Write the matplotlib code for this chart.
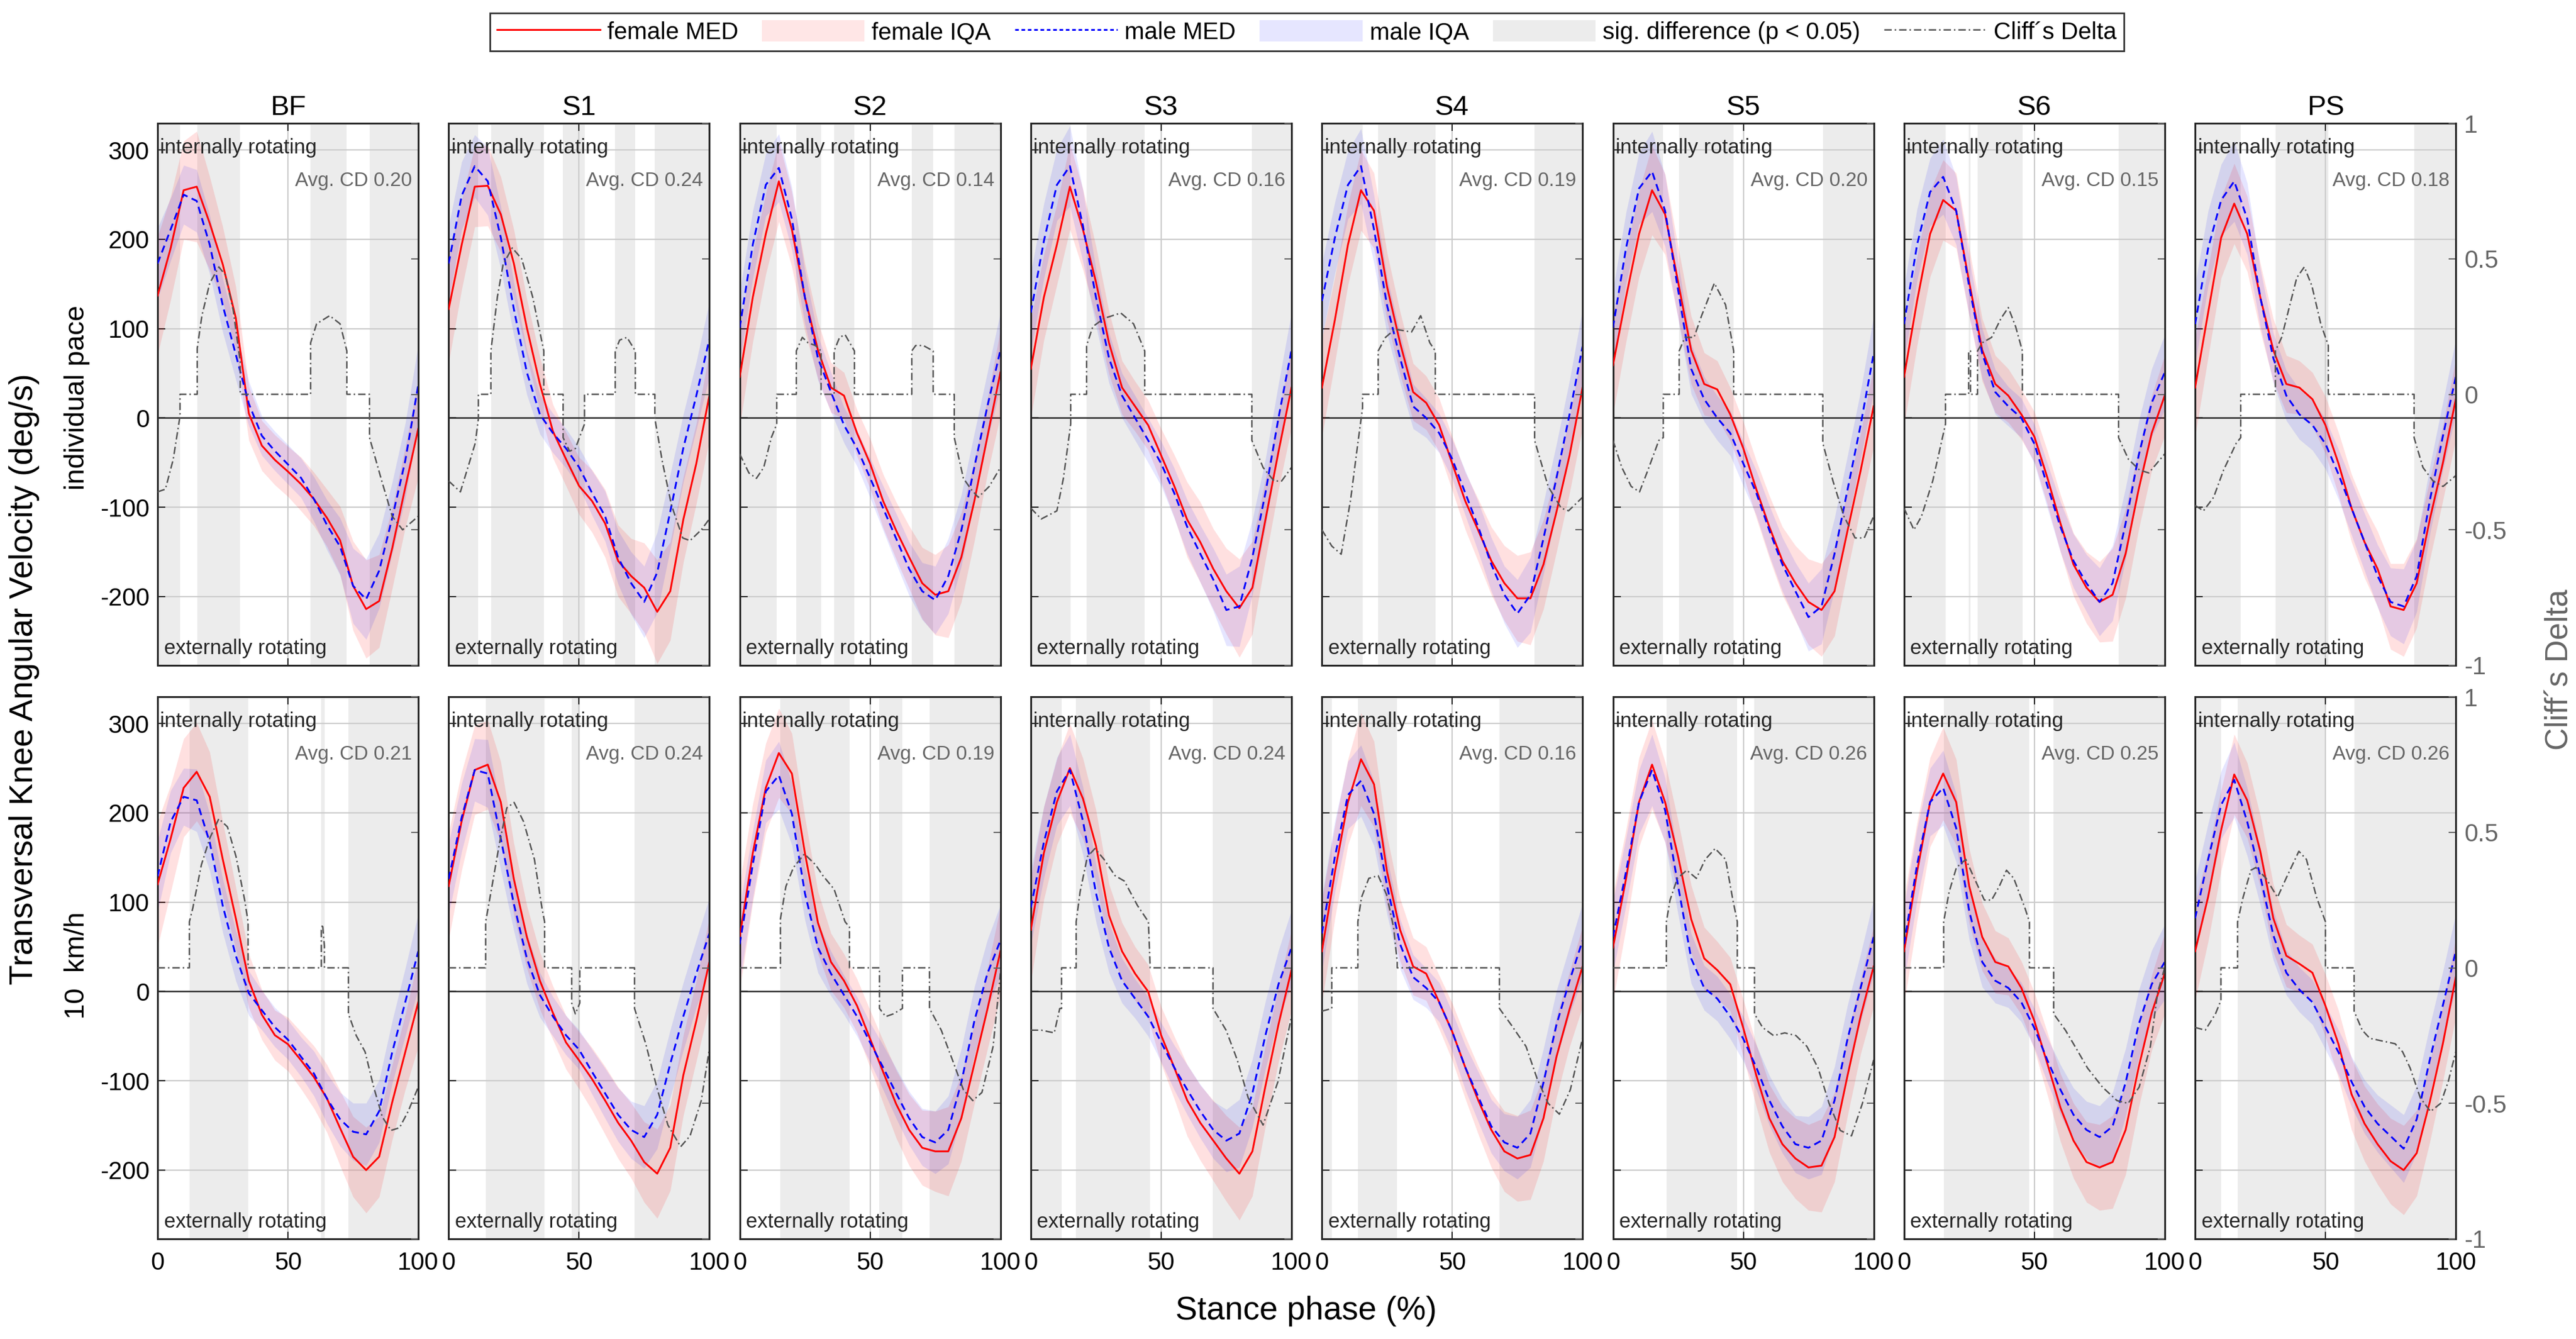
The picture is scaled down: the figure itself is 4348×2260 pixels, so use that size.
import numpy as np
import matplotlib
matplotlib.use('Agg')
import matplotlib.pyplot as plt
from matplotlib.lines import Line2D
from matplotlib.patches import Patch
from matplotlib.ticker import FuncFormatter

plt.rcParams['font.family'] = ['Liberation Sans', 'DejaVu Sans']
plt.rcParams['axes.unicode_minus'] = False

# stance phase (%) at which the medians / IQR were read
phase = np.arange(0, 101, 5)

shoes = ['BF', 'S1', 'S2', 'S3', 'S4', 'S5', 'S6', 'PS']
speeds = ['individual pace', '10  km/h']

# ---- individual pace ----
fem_med_ind = [
    [137, 190, 255, 259, 218, 172, 112, 5, -31, -47, -60, -74, -91, -112, -137, -188, -214, -205, -146, -78, -12],
    [122, 194, 259, 260, 228, 173, 101, 38, -15, -46, -76, -93, -118, -160, -177, -190, -217, -194, -114, -51, 25],
    [46, 135, 206, 265, 211, 135, 76, 34, 25, -17, -51, -93, -126, -156, -185, -198, -194, -156, -93, -21, 51],
    [55, 135, 194, 259, 211, 152, 84, 34, 13, -8, -42, -76, -114, -139, -169, -194, -213, -190, -114, -38, 34],
    [34, 110, 194, 255, 232, 147, 84, 29, 17, -8, -51, -93, -126, -160, -185, -202, -202, -164, -105, -42, 34],
    [59, 135, 206, 255, 228, 152, 76, 38, 32, 4, -34, -80, -122, -160, -185, -206, -215, -194, -126, -59, 13],
    [46, 131, 206, 244, 232, 152, 76, 38, 25, 4, -21, -67, -118, -164, -190, -206, -198, -152, -80, -17, 25],
    [34, 118, 202, 240, 206, 135, 76, 38, 34, 21, -8, -51, -101, -139, -169, -211, -215, -185, -114, -51, 21],
]
mal_med_ind = [
    [173, 211, 250, 243, 194, 126, 71, 16, -20, -37, -52, -67, -91, -120, -144, -188, -203, -171, -112, -48, 37],
    [173, 249, 282, 265, 202, 122, 51, 4, -17, -34, -55, -84, -110, -156, -185, -206, -173, -105, -34, 25, 88],
    [101, 194, 261, 280, 223, 135, 67, 29, -8, -34, -67, -101, -135, -169, -194, -204, -177, -126, -55, 13, 76],
    [118, 198, 261, 282, 215, 135, 67, 25, 0, -25, -51, -84, -122, -152, -181, -215, -211, -156, -84, 0, 76],
    [131, 202, 261, 282, 211, 126, 67, 13, 0, -17, -46, -84, -122, -164, -198, -219, -198, -135, -67, 4, 80],
    [101, 190, 257, 276, 232, 143, 55, 21, 0, -17, -51, -84, -126, -164, -194, -223, -211, -152, -80, -8, 72],
    [105, 194, 253, 270, 232, 147, 72, 29, 13, 0, -29, -76, -122, -160, -185, -206, -185, -118, -42, 17, 51],
    [105, 190, 244, 265, 223, 135, 67, 25, 4, -8, -29, -63, -101, -139, -177, -206, -211, -177, -93, -21, 46],
]
# half width of the inter quartile range
fem_iqr_ind = [
    [66, 58, 55, 62, 52, 42, 35, 30, 28, 28, 28, 30, 30, 32, 38, 50, 55, 52, 45, 45, 55],
    [60, 50, 45, 45, 42, 38, 32, 30, 30, 30, 32, 35, 38, 40, 42, 50, 58, 55, 48, 45, 50],
    [55, 50, 45, 45, 42, 38, 32, 28, 26, 26, 28, 30, 32, 35, 40, 45, 52, 50, 45, 42, 48],
    [55, 48, 45, 48, 45, 40, 35, 30, 28, 28, 30, 35, 42, 45, 45, 48, 55, 52, 45, 42, 45],
    [55, 48, 45, 45, 42, 38, 35, 32, 30, 30, 30, 32, 35, 38, 42, 48, 52, 50, 45, 42, 45],
    [55, 50, 48, 50, 45, 40, 38, 35, 32, 30, 30, 32, 35, 38, 42, 48, 52, 50, 45, 42, 45],
    [55, 50, 48, 45, 42, 38, 35, 32, 30, 28, 28, 30, 32, 35, 40, 45, 52, 50, 45, 42, 45],
    [55, 50, 45, 45, 42, 38, 35, 32, 30, 30, 32, 35, 38, 40, 42, 48, 52, 50, 45, 42, 45],
]
mal_iqr_ind = [
    [40, 35, 33, 35, 33, 30, 28, 25, 22, 22, 22, 22, 25, 28, 32, 42, 45, 42, 40, 42, 45],
    [42, 38, 35, 38, 35, 30, 25, 22, 22, 22, 22, 25, 28, 30, 35, 40, 45, 42, 38, 38, 42],
    [40, 38, 35, 38, 35, 30, 25, 22, 20, 20, 22, 25, 28, 30, 32, 38, 42, 40, 38, 38, 42],
    [45, 42, 40, 45, 40, 32, 28, 25, 25, 25, 25, 28, 30, 32, 35, 40, 45, 42, 38, 38, 42],
    [42, 40, 38, 42, 38, 32, 28, 25, 22, 22, 22, 25, 28, 30, 32, 38, 42, 40, 38, 38, 42],
    [42, 40, 40, 45, 40, 32, 28, 25, 25, 25, 25, 25, 28, 30, 32, 38, 42, 40, 38, 38, 42],
    [42, 40, 38, 42, 38, 32, 28, 25, 22, 22, 22, 25, 28, 30, 32, 38, 42, 40, 38, 38, 42],
    [45, 42, 40, 45, 40, 32, 28, 28, 28, 28, 28, 28, 30, 32, 35, 38, 42, 40, 38, 38, 42],
]
sig_ind = [
    [(0, 8.6), (15.2, 31.7), (58.7, 72.6), (81.3, 100)],
    [(0, 11.4), (16.2, 36.5), (43.9, 52.1), (63.9, 71.6), (79.1, 100)],
    [(0, 14.2), (21.7, 31.2), (36.2, 44), (66, 74.2), (82.3, 100)],
    [(0, 15.3), (21.4, 43.7), (84.8, 100)],
    [(0, 15.6), (21.6, 43.5), (81.6, 100)],
    [(0, 19.3), (25.4, 46.3), (80.5, 100)],
    [(0, 15.9), (24.8, 25.5), (28.2, 45.4), (82.3, 100)],
    [(0, 17.5), (30.8, 51.1), (84, 100)],
]
# Cliff's delta inside each significant region (phase %, delta)
cd_ind = [
    [[(0, -0.36), (3, -0.35), (6, -0.24), (8.6, -0.08)],
     [(15.2, 0.17), (17, 0.29), (20, 0.41), (23.5, 0.47), (26, 0.44), (29, 0.31), (31.7, 0.12)],
     [(58.7, 0.19), (61, 0.26), (66, 0.29), (70, 0.26), (72.6, 0.16)],
     [(81.3, -0.16), (86, -0.32), (90, -0.45), (94, -0.5), (100, -0.45)]],
    [[(0, -0.32), (4.5, -0.36), (8, -0.25), (10.2, -0.18), (11.4, -0.09)],
     [(16.2, 0.16), (18.7, 0.36), (20.9, 0.48), (24.4, 0.54), (28, 0.5), (32.2, 0.36), (36.5, 0.16)],
     [(43.9, -0.16), (46.4, -0.21), (48.6, -0.2), (52.1, -0.11)],
     [(63.9, 0.16), (65.6, 0.2), (68.4, 0.21), (71.6, 0.16)],
     [(79.1, -0.09), (82, -0.25), (85.5, -0.41), (89.8, -0.53), (92.6, -0.54), (96.9, -0.5), (100, -0.46)]],
    [[(0, -0.22), (3.5, -0.29), (6.4, -0.31), (9.2, -0.27), (12.1, -0.16), (14.2, -0.11)],
     [(21.7, 0.16), (24, 0.21), (26.2, 0.19), (29, 0.18), (31.2, 0.16)],
     [(36.2, 0.16), (38.3, 0.21), (40.4, 0.22), (44, 0.16)],
     [(66, 0.16), (67.5, 0.18), (70.4, 0.18), (74.2, 0.16)],
     [(82.3, -0.16), (85.8, -0.31), (88.7, -0.35), (91.5, -0.38), (95.7, -0.34), (100, -0.27)]],
    [[(0, -0.42), (4, -0.46), (10, -0.43), (12.5, -0.31), (15.3, -0.11)],
     [(21.4, 0.18), (23.8, 0.25), (28.1, 0.28), (34.5, 0.3), (39.4, 0.26), (43.7, 0.16)],
     [(84.8, -0.17), (89.1, -0.27), (93.3, -0.32), (96.2, -0.32), (100, -0.27)]],
    [[(0, -0.5), (3.8, -0.56), (7.4, -0.59), (11, -0.39), (13.8, -0.18), (15.6, -0.05)],
     [(21.6, 0.16), (24.4, 0.21), (28, 0.24), (34.4, 0.23), (37.9, 0.29), (41.4, 0.19), (43.5, 0.16)],
     [(81.6, -0.17), (86.8, -0.34), (91.8, -0.42), (94.6, -0.43), (100, -0.38)]],
    [[(0, -0.17), (3.4, -0.27), (7, -0.34), (10.2, -0.36), (13.4, -0.28), (17.6, -0.17), (19.3, -0.16)],
     [(25.4, 0.16), (27.6, 0.21), (31.1, 0.21), (34, 0.29), (38.9, 0.41), (43.2, 0.33), (46.3, 0.16)],
     [(80.5, -0.18), (84.4, -0.32), (88.6, -0.45), (92.9, -0.53), (96.4, -0.53), (100, -0.45)]],
    [[(0, -0.42), (3.8, -0.5), (6.7, -0.45), (11, -0.32), (15.9, -0.11)],
     [(24.8, 0.16), (25.5, 0.16)],
     [(28.2, 0.16), (30, 0.19), (33.6, 0.21), (37.2, 0.28), (40, 0.32), (42.8, 0.25), (45.4, 0.16)],
     [(82.3, -0.16), (86.1, -0.24), (90.4, -0.28), (93.9, -0.29), (100, -0.22)]],
    [[(0, -0.41), (3.2, -0.43), (7.1, -0.38), (10.9, -0.28), (15.8, -0.18), (17.5, -0.16)],
     [(30.8, 0.16), (33.2, 0.21), (36.1, 0.32), (39, 0.43), (41.9, 0.47), (44.8, 0.4), (48.2, 0.26), (51.1, 0.18)],
     [(84, -0.16), (87.4, -0.27), (91.3, -0.32), (95.1, -0.34), (100, -0.3)]],
]
avg_cd_ind = [0.20, 0.24, 0.14, 0.16, 0.19, 0.20, 0.15, 0.18]

# ---- 10 km/h ----
fem_med_10 = [
    [120, 171, 228, 246, 218, 148, 82, 12, -26, -49, -59, -77, -96, -120, -153, -185, -200, -185, -124, -68, -12],
    [118, 191, 248, 254, 212, 126, 61, 12, -24, -57, -77, -98, -122, -147, -167, -191, -204, -175, -94, -33, 33],
    [61, 155, 228, 267, 244, 155, 77, 33, 12, -16, -53, -90, -126, -155, -175, -179, -179, -142, -81, -20, 45],
    [69, 155, 212, 250, 216, 163, 85, 45, 20, 0, -49, -85, -122, -147, -167, -187, -204, -179, -106, -37, 24],
    [45, 134, 212, 260, 232, 134, 69, 28, 20, -12, -45, -85, -122, -155, -179, -187, -183, -142, -73, -20, 28],
    [49, 126, 212, 254, 212, 151, 81, 37, 24, 8, -41, -94, -142, -171, -187, -197, -195, -163, -94, -28, 28],
    [45, 134, 212, 244, 212, 118, 61, 33, 28, 4, -33, -81, -130, -167, -191, -197, -191, -155, -85, -24, 20],
    [45, 106, 181, 243, 214, 157, 82, 40, 31, 21, -16, -59, -115, -148, -171, -190, -200, -181, -124, -59, 16],
]
mal_med_10 = [
    [129, 190, 218, 214, 167, 96, 40, -2, -21, -40, -54, -73, -92, -120, -143, -157, -160, -134, -68, -12, 45],
    [126, 195, 248, 244, 171, 98, 37, -4, -28, -49, -65, -90, -114, -138, -155, -163, -138, -81, -28, 20, 65],
    [53, 142, 224, 242, 199, 110, 49, 20, -4, -28, -57, -85, -114, -142, -163, -169, -155, -102, -33, 20, 57],
    [94, 167, 224, 248, 191, 110, 49, 12, -8, -28, -57, -85, -110, -134, -155, -167, -159, -114, -49, 8, 49],
    [65, 151, 220, 236, 199, 118, 53, 16, 4, -12, -45, -85, -118, -151, -169, -175, -159, -102, -37, 12, 57],
    [61, 134, 212, 248, 203, 118, 37, 4, -8, -28, -53, -85, -122, -151, -171, -175, -167, -122, -53, 4, 61],
    [53, 142, 212, 228, 183, 90, 33, 12, 4, -12, -41, -77, -110, -138, -155, -163, -151, -102, -37, 8, 33],
    [82, 148, 209, 237, 190, 129, 63, 21, 2, -12, -40, -68, -101, -129, -148, -162, -176, -143, -77, -16, 45],
]
fem_iqr_10 = [
    [70, 60, 55, 55, 50, 42, 35, 30, 28, 28, 30, 32, 35, 38, 42, 45, 48, 45, 42, 42, 50],
    [60, 55, 50, 50, 45, 40, 35, 32, 30, 30, 32, 35, 38, 40, 42, 45, 50, 48, 45, 45, 50],
    [60, 55, 50, 50, 45, 40, 35, 32, 30, 30, 32, 35, 38, 40, 42, 45, 50, 48, 45, 45, 50],
    [58, 52, 48, 50, 45, 40, 35, 32, 30, 30, 32, 35, 40, 42, 45, 48, 52, 50, 45, 42, 45],
    [58, 52, 48, 52, 48, 40, 35, 32, 30, 30, 32, 35, 38, 42, 45, 48, 50, 48, 45, 42, 45],
    [60, 55, 50, 50, 45, 40, 38, 35, 32, 30, 32, 35, 38, 42, 45, 48, 52, 50, 45, 42, 45],
    [60, 55, 50, 52, 48, 42, 38, 35, 32, 30, 32, 35, 38, 42, 45, 48, 52, 50, 45, 42, 45],
    [55, 50, 45, 45, 42, 40, 38, 35, 32, 32, 35, 38, 40, 42, 45, 48, 50, 48, 45, 42, 45],
]
mal_iqr_10 = [
    [40, 35, 32, 35, 32, 30, 28, 25, 22, 22, 22, 22, 25, 28, 30, 32, 35, 35, 35, 38, 42],
    [40, 38, 35, 38, 35, 30, 28, 25, 22, 22, 22, 25, 28, 30, 32, 35, 38, 38, 38, 38, 40],
    [42, 38, 35, 38, 35, 30, 28, 25, 22, 22, 22, 25, 28, 30, 32, 35, 38, 38, 38, 38, 40],
    [42, 40, 38, 40, 38, 32, 28, 25, 22, 22, 22, 25, 28, 30, 32, 35, 38, 38, 38, 38, 42],
    [42, 40, 38, 40, 36, 32, 28, 25, 22, 22, 22, 25, 28, 30, 32, 35, 38, 38, 38, 38, 42],
    [40, 38, 36, 40, 36, 32, 28, 25, 25, 25, 25, 25, 28, 30, 32, 35, 38, 38, 38, 38, 42],
    [42, 40, 38, 42, 38, 32, 28, 25, 22, 22, 22, 25, 28, 30, 32, 35, 38, 38, 38, 38, 42],
    [42, 40, 38, 42, 38, 32, 28, 25, 25, 25, 25, 25, 28, 30, 32, 35, 38, 38, 38, 38, 42],
]
sig_10 = [
    [(12.2, 34.7), (62.8, 64), (73.2, 100)],
    [(14.2, 36.8), (47.2, 50.3), (71.3, 100)],
    [(15.6, 42.1), (53.6, 62.4), (72.8, 100)],
    [(0, 11.8), (17.4, 45.8), (69.9, 100)],
    [(0, 3.8), (13.8, 28.9), (68.1, 100)],
    [(20.5, 47.7), (54.3, 100)],
    [(15.2, 48.1), (57.4, 100)],
    [(0, 9.9), (16.3, 50), (61, 100)],
]
cd_10 = [
    [[(12.2, 0.17), (13.5, 0.22), (16.8, 0.38), (20.1, 0.48), (23.5, 0.55), (26.8, 0.52), (30.1, 0.41), (33.4, 0.25), (34.7, 0.17)],
     [(62.8, 0.14), (63.3, 0.16), (64, 0.08)],
     [(73.2, -0.17), (76.2, -0.25), (79.6, -0.31), (82.9, -0.44), (86.2, -0.55), (89.5, -0.6), (92.8, -0.59), (96.1, -0.53), (100, -0.44)]],
    [[(14.2, 0.17), (16.6, 0.3), (19.5, 0.46), (22.3, 0.59), (25.1, 0.61), (28.7, 0.54), (32.9, 0.4), (35.8, 0.22), (36.8, 0.17)],
     [(47.2, -0.13), (48.6, -0.17), (50.3, -0.13)],
     [(71.3, -0.15), (75.6, -0.28), (79.8, -0.44), (84.1, -0.58), (89, -0.66), (92.6, -0.62), (96.9, -0.49), (100, -0.3)]],
    [[(15.6, 0.18), (17.7, 0.3), (20.6, 0.37), (24.8, 0.42), (29.1, 0.38), (31.9, 0.34), (36.2, 0.29), (40.4, 0.17), (42.1, 0.15)],
     [(53.6, -0.15), (56, -0.18), (58.9, -0.17), (62.4, -0.15)],
     [(72.8, -0.15), (77.3, -0.23), (81.6, -0.34), (85.8, -0.45), (89.4, -0.49), (92.9, -0.46), (97.2, -0.29), (100, -0.02)]],
    [[(0, -0.23), (4, -0.23), (9, -0.24), (11.1, -0.15), (11.8, -0.15)],
     [(17.4, 0.17), (18.9, 0.28), (21.7, 0.41), (24.6, 0.44), (28.1, 0.4), (32.3, 0.34), (35.9, 0.32), (40.9, 0.23), (45.1, 0.17)],
     [(69.9, -0.15), (74.9, -0.23), (79.2, -0.34), (83.4, -0.48), (89.1, -0.58), (94.8, -0.42), (100, -0.18)]],
    [[(0, -0.16), (3.8, -0.15)],
     [(13.8, 0.17), (15.2, 0.26), (18, 0.33), (21.6, 0.34), (24.8, 0.27), (27.5, 0.15), (28.9, 0.02)],
     [(68.1, -0.15), (72.6, -0.21), (78.3, -0.29), (82.6, -0.41), (86.8, -0.5), (91.1, -0.54), (95.3, -0.45), (100, -0.26)]],
    [[(20.5, 0.17), (21.9, 0.25), (24.7, 0.33), (28.3, 0.36), (32, 0.33), (35.4, 0.4), (39.2, 0.44), (43.2, 0.4), (46, 0.25), (47.7, 0.17)],
     [(54.3, -0.17), (57.4, -0.22), (61.6, -0.25), (65.9, -0.24), (70.2, -0.25), (74.4, -0.29), (78.7, -0.37), (82.9, -0.5), (87.2, -0.6), (91.5, -0.62), (95.7, -0.5), (100, -0.34)]],
    [[(15.2, 0.17), (17.3, 0.28), (20.1, 0.37), (23.7, 0.4), (26.5, 0.34), (30.8, 0.25), (33.6, 0.25), (36.5, 0.3), (39.3, 0.36), (42.1, 0.33), (46.4, 0.22), (48.1, 0.17)],
     [(57.4, -0.17), (61.9, -0.23), (66.2, -0.3), (70.4, -0.37), (76.1, -0.44), (81.7, -0.49), (86, -0.5), (90.2, -0.44), (94.5, -0.29), (97.3, -0.09), (100, 0)]],
    [[(0, -0.22), (3.9, -0.23), (7.8, -0.17), (9.9, -0.12)],
     [(16.3, 0.17), (18.4, 0.26), (21.4, 0.36), (23.3, 0.37), (27.2, 0.33), (31.6, 0.26), (34.9, 0.33), (39.8, 0.43), (42.7, 0.4), (46.6, 0.26), (50, 0.17)],
     [(61, -0.16), (64.1, -0.23), (67, -0.26), (71.8, -0.27), (76.7, -0.28), (79.6, -0.31), (82.5, -0.37), (86.4, -0.48), (90.3, -0.53), (94.2, -0.5), (97.1, -0.42), (100, -0.31)]],
]
avg_cd_10 = [0.21, 0.24, 0.19, 0.24, 0.16, 0.26, 0.25, 0.26]

rows = [
    (fem_med_ind, mal_med_ind, fem_iqr_ind, mal_iqr_ind, sig_ind, cd_ind, avg_cd_ind),
    (fem_med_10, mal_med_10, fem_iqr_10, mal_iqr_10, sig_10, cd_10, avg_cd_10),
]

SIG_C = (0.925, 0.925, 0.925)
GRID_C = (0.80, 0.80, 0.80)
CD_C = (0.33, 0.33, 0.33)
AX_C = (0.15, 0.15, 0.15)
GREY_TXT = (0.40, 0.40, 0.40)
CD_LS = (0, (5, 2, 1, 2))
MALE_LS = (0, (4, 2.5))


def cd_trace(regions, knots):
    # Cliff's delta is zero outside of the significant regions
    xs, ys = [], []
    for (a, b), pts in zip(regions, knots):
        if a > 0:
            xs.append(a)
            ys.append(0)
        for x, y in pts:
            xs.append(x)
            ys.append(y)
        if b < 100:
            xs.append(b)
            ys.append(0)
    if xs[0] > 0:
        xs.insert(0, 0)
        ys.insert(0, 0)
    if xs[-1] < 100:
        xs.append(100)
        ys.append(0)
    return xs, ys


W, H = 4348, 2260
fig = plt.figure(figsize=(W / 100, H / 100), dpi=100)

left0, pitch, aw, ah = 266, 491.3, 440, 915
row_top = [208, 1176]

for r in range(2):
    fmed, mmed, fiqr, miqr, sig, cd, avg = rows[r]
    for c in range(8):
        ax = fig.add_axes([(left0 + c * pitch) / W, 1 - (row_top[r] + ah) / H, aw / W, ah / H])
        for a, b in sig[c]:
            ax.axvspan(a, b, color=SIG_C, lw=0, zorder=0)
        for y in [-200, -100, 100, 200, 300]:
            ax.axhline(y, color=GRID_C, lw=1.6, zorder=1)
        ax.axvline(50, color=GRID_C, lw=1.6, zorder=1)
        ax.axhline(0, color=AX_C, lw=1.8, zorder=1)

        fm = np.array(fmed[c])
        mm = np.array(mmed[c])
        fh = np.array(fiqr[c])
        mh = np.array(miqr[c])
        ax.fill_between(phase, fm - fh, fm + fh, color='red', alpha=0.12, lw=0, zorder=2)
        ax.fill_between(phase, mm - mh, mm + mh, color='blue', alpha=0.10, lw=0, zorder=2)
        ax.plot(phase, fm, color='red', lw=2.2, zorder=4)
        ax.plot(phase, mm, color='blue', lw=2.2, ls=MALE_LS, zorder=4)

        ax.set_xlim(0, 100)
        ax.set_ylim(-277, 330)
        ax.set_xticks([0, 50, 100])
        ax.set_yticks([-200, -100, 0, 100, 200, 300])
        ax.tick_params(direction='in', length=9, width=1.5, top=True, labelsize=30,
                       colors=AX_C, labelcolor='black', pad=10)
        ax.tick_params(axis='x', labelbottom=(r == 1), pad=15)
        ax.tick_params(axis='y', labelleft=(c == 0))
        for s in ax.spines.values():
            s.set_color(AX_C)
            s.set_linewidth(2.2)

        ax.text(0.01, 0.944, 'internally rotating', transform=ax.transAxes,
                fontsize=25, color=AX_C, va='baseline', zorder=6)
        ax.text(0.024, 0.021, 'externally rotating', transform=ax.transAxes,
                fontsize=25, color=AX_C, va='baseline', zorder=6)
        ax.text(0.976, 0.884, 'Avg. CD %.2f' % avg[c], transform=ax.transAxes,
                fontsize=24, color=GREY_TXT, ha='right', va='baseline', zorder=6)
        if r == 0:
            ax.set_title(shoes[c], fontsize=34, pad=10)

        ax2 = ax.twinx()
        cx, cy = cd_trace(sig[c], cd[c])
        ax2.plot(cx, cy, color=CD_C, lw=1.8, ls=CD_LS)
        ax2.set_ylim(-1, 1)
        ax2.set_yticks([-1, -0.5, 0, 0.5, 1])
        ax2.yaxis.set_major_formatter(FuncFormatter(lambda v, p: '%g' % v))
        ax2.tick_params(direction='in', length=9, width=1.5, labelsize=30,
                        colors=GREY_TXT, labelright=(c == 7), pad=10)
        for k in ['left', 'top', 'bottom']:
            ax2.spines[k].set_visible(False)
        ax2.spines['right'].set_color(AX_C)
        ax2.spines['right'].set_linewidth(2.2)

fig.text(0.0095, 0.493, 'Transversal Knee Angular Velocity (deg/s)', rotation=90,
         fontsize=40, ha='center', va='center')
fig.text(0.0299, 0.703, speeds[0], rotation=90, fontsize=34, ha='center', va='center')
fig.text(0.0299, 0.279, speeds[1], rotation=90, fontsize=34, ha='center', va='center')
fig.text(0.9935, 0.5, 'Cliff´s Delta', rotation=90, fontsize=38, color=GREY_TXT,
         ha='center', va='center')
fig.text(0.507, 0.021, 'Stance phase (%)', fontsize=40, ha='center', va='center')

handles = [
    Line2D([], [], color='red', lw=2.2),
    Patch(facecolor=(1, 0.9, 0.9), edgecolor='none'),
    Line2D([], [], color='blue', lw=2.2, ls=(0, (2, 1.5))),
    Patch(facecolor=(0.9, 0.9, 1), edgecolor='none'),
    Patch(facecolor=SIG_C, edgecolor='none'),
    Line2D([], [], color=CD_C, lw=1.8, ls=CD_LS),
]
labels = ['female MED', 'female IQA', 'male MED', 'male IQA',
          'sig. difference (p < 0.05)', 'Cliff´s Delta']
leg = fig.legend(handles, labels, loc='center', bbox_to_anchor=(0.5074, 0.976), ncol=6,
                 fontsize=29, frameon=True, fancybox=False, edgecolor='black',
                 handlelength=4.3, handletextpad=0.3, columnspacing=1.0,
                 borderpad=0.3, handleheight=1.0)
leg.get_frame().set_linewidth(2)

fig.savefig('out.png', dpi=100)
